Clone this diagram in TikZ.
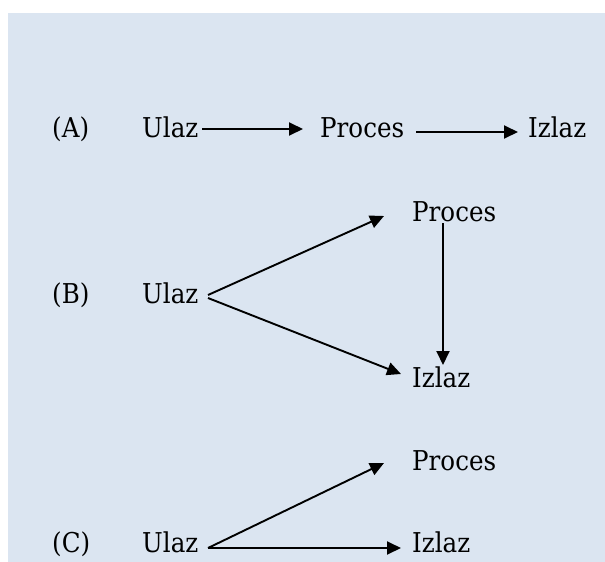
\documentclass[tikz,border=0pt]{standalone}
\usepackage{fontspec}
\setmainfont{DejaVu Serif}[FakeStretch=0.9]
\usetikzlibrary{arrows.meta}
\definecolor{panel}{HTML}{DBE5F1}
\begin{document}
\begin{tikzpicture}[x=1pt,y=-1pt,
  lbl/.style={anchor=base west,inner sep=0pt,font=\fontsize{27.3}{30}\selectfont},
  flow/.style={line width=1.9pt,-{Triangle[length=14pt,width=13pt]}}]
  \useasboundingbox (0,0) rectangle (605,562);
  \fill[panel] (7.5,12.5) rectangle (605,562);

  % (A) linear chain
  \node[lbl] (la) at (52,137) {(A)};
  \node[lbl] (ua) at (142,137) {Ulaz};
  \node[lbl] (pa) at (320,137) {Proces};
  \node[lbl] (ia) at (528,137) {Izlaz};
  \coordinate (a1s) at (202,129);
  \coordinate (a1e) at (303,129);
  \coordinate (a2s) at (416,132);
  \coordinate (a2e) at (518,132);
  \draw[flow] (a1s) -- (a1e);
  \draw[flow] (a2s) -- (a2e);

  % (B) split with process feeding output
  \node[lbl] (lb) at (52,303) {(B)};
  \node[lbl] (ub) at (142,303) {Ulaz};
  \node[lbl] (pb) at (412,221) {Proces};
  \node[lbl] (ib) at (412,387) {Izlaz};
  \coordinate (b1s) at (208,295);
  \coordinate (b1e) at (384,216);
  \coordinate (b2s) at (208,298);
  \coordinate (b2e) at (401,374);
  \coordinate (b3s) at (443,223);
  \coordinate (b3e) at (443,365);
  \draw[flow] (b1s) -- (b1e);
  \draw[flow] (b2s) -- (b2e);
  \draw[flow] (b3s) -- (b3e);

  % (C) split without link
  \node[lbl] (lc) at (52,552) {(C)};
  \node[lbl] (uc) at (142,552) {Ulaz};
  \node[lbl] (pc) at (412,470) {Proces};
  \node[lbl] (ic) at (412,552) {Izlaz};
  \coordinate (c0) at (208,548);
  \coordinate (c1e) at (384,463);
  \coordinate (c2e) at (401,548);
  \draw[flow] (c0) -- (c1e);
  \draw[flow] (c0) -- (c2e);
\end{tikzpicture}
\end{document}
